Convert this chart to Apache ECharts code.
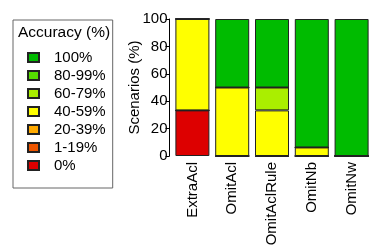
<!DOCTYPE html>
<html>
<head>
<meta charset="utf-8">
<script src="https://cdn.jsdelivr.net/npm/echarts@6/dist/echarts.min.js"></script>
<style>
  html, body { margin: 0; padding: 0; background: #fff; }
  #chart { width: 375px; height: 250px; }
</style>
</head>
<body>
<div id="chart"></div>
<script>
// data
const categories = ["ExtraAcl", "OmitAcl", "OmitAclRule", "OmitNb", "OmitNw"];
const bins = ["0%", "1-19%", "20-39%", "40-59%", "60-79%", "80-99%", "100%"];
const binColors = ["#DD0000", "#EE5500", "#FFAA00", "#FFFF00", "#AAEE00", "#55DD00", "#00BB00"];
const acc0 = [33.3, 0, 0, 0, 0];
const acc1to19 = [0, 0, 0, 0, 0];
const acc20to39 = [0, 0, 0, 0, 0];
const acc40to59 = [66.7, 50, 33.3, 6.25, 0];
const acc60to79 = [0, 0, 16.7, 0, 0];
const acc80to99 = [0, 0, 0, 0, 0];
const acc100 = [0, 50, 50, 93.75, 100];
const yTicks = [0, 20, 40, 60, 80, 100];

const binValues = [acc0, acc1to19, acc20to39, acc40to59, acc60to79, acc80to99, acc100];
const font = "Liberation Sans, Arial, sans-serif";

const chart = echarts.init(document.getElementById("chart"));
chart.setOption({
  animation: false,
  textStyle: { fontFamily: font, color: "#000" },
  title: {
    text: "Accuracy (%)",
    left: 18,
    top: 25,
    padding: 0,
    textStyle: { fontSize: 15.5, fontWeight: "normal", color: "#000", fontFamily: font },
  },
  legend: {
    orient: "vertical",
    left: 13,
    top: 20,
    data: bins.slice().reverse(),
    icon: "rect",
    itemWidth: 11,
    itemHeight: 9,
    itemGap: 3,
    padding: [30, 7, 15, 14],
    borderColor: "#666",
    borderWidth: 1,
    textStyle: { fontSize: 15, lineHeight: 15, color: "#000", padding: [0, 0, 0, 10] },
  },
  grid: { left: 172.5, right: 3.5, top: 19, bottom: 94 },
  xAxis: {
    type: "category",
    data: categories,
    axisLine: { show: false },
    axisTick: { show: false },
    axisLabel: { rotate: 90, fontSize: 15, color: "#000", margin: 6 },
  },
  yAxis: {
    type: "value",
    min: 0,
    max: 100,
    interval: 20,
    offset: 3,
    name: "Scenarios (%)",
    nameLocation: "middle",
    nameGap: 27,
    nameMoveOverlap: false,
    nameTextStyle: { fontSize: 15, color: "#000" },
    splitLine: { show: false },
    axisLine: { show: true, lineStyle: { color: "#000" } },
    axisTick: { show: true, length: 4, lineStyle: { color: "#000" } },
    axisLabel: {
      fontSize: 15,
      color: "#000",
      margin: 2,
      formatter: (v) => (yTicks.includes(v) ? String(v) : ""),
    },
  },
  series: bins.map((b, i) => ({
    name: b,
    type: "bar",
    stack: "acc",
    barWidth: 34,
    data: binValues[i],
    itemStyle: { color: binColors[i], borderColor: "#222", borderWidth: 1 },
  })),
});
</script>
</body>
</html>
